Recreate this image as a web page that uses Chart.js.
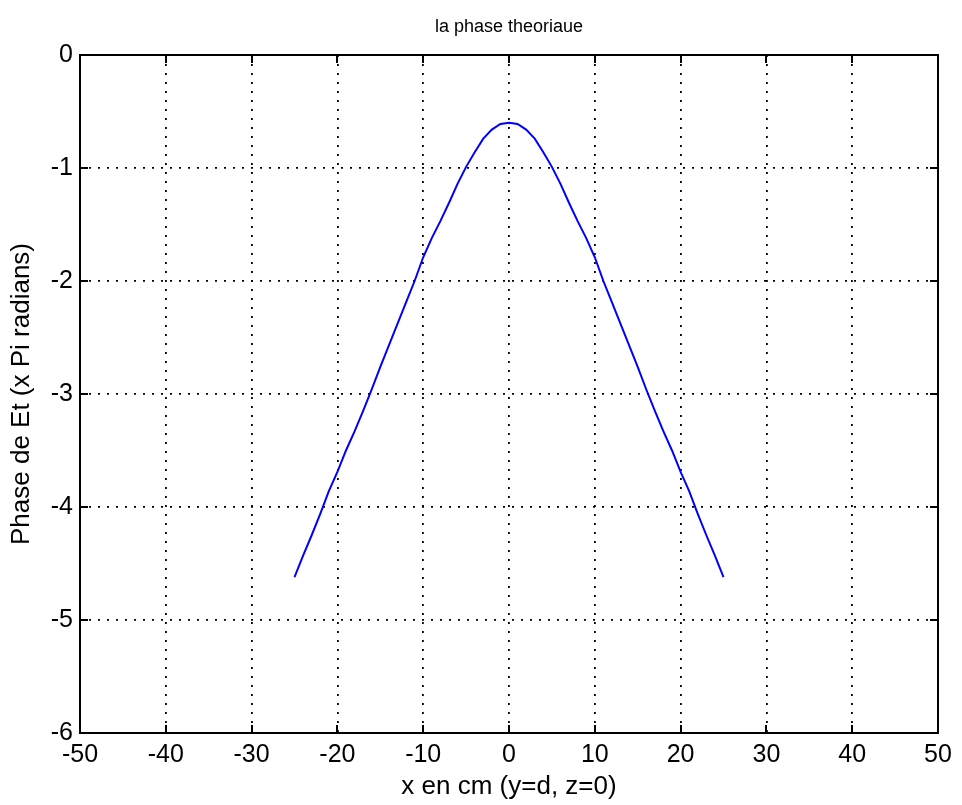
<!DOCTYPE html>
<html>
<head>
<meta charset="utf-8">
<title>la phase theoriaue</title>
<script src="https://cdn.jsdelivr.net/npm/chart.js@4.4.1/dist/chart.umd.min.js"></script>
<style>
  html, body { margin: 0; padding: 0; background: #ffffff; }
  #wrap { width: 962px; height: 805px; }
</style>
</head>
<body>
<div id="wrap"><canvas id="c" width="962" height="805"></canvas></div>
<script>
// Position along x (cm), sampled every centimetre
const positionsCm = [
  -25, -24, -23, -22, -21, -20, -19, -18, -17, -16, -15, -14, -13,
  -12, -11, -10, -9, -8, -7, -6, -5, -4, -3, -2, -1, 0,
  1, 2, 3, 4, 5, 6, 7, 8, 9, 10, 11, 12, 13,
  14, 15, 16, 17, 18, 19, 20, 21, 22, 23, 24, 25
];
// Theoretical phase of Et, in units of pi radians
const phasePi = [
  -4.62, -4.43, -4.25, -4.06, -3.86, -3.69, -3.50, -3.33, -3.15, -2.96, -2.76, -2.57, -2.38,
  -2.19, -2.00, -1.79, -1.62, -1.47, -1.31, -1.14, -0.99, -0.86, -0.74, -0.66, -0.61, -0.60,
  -0.61, -0.66, -0.74, -0.86, -0.99, -1.14, -1.31, -1.47, -1.62, -1.79, -2.00, -2.19, -2.38,
  -2.57, -2.76, -2.96, -3.15, -3.33, -3.50, -3.69, -3.86, -4.06, -4.25, -4.43, -4.62
];
const xTicks = [-50, -40, -30, -20, -10, 0, 10, 20, 30, 40, 50];
const yTicks = [0, -1, -2, -3, -4, -5, -6];

const FONT = 'Liberation Sans, Arial, Helvetica, sans-serif';

// Solid box around the plot area with short inward tick marks on all four sides
const boxAndTicks = {
  id: 'boxAndTicks',
  afterDraw(chart) {
    const { ctx, chartArea: a, scales } = chart;
    const len = 8;
    ctx.save();
    ctx.strokeStyle = '#000000';
    ctx.lineWidth = 2;
    ctx.setLineDash([]);
    ctx.beginPath();
    xTicks.forEach(v => {
      const px = Math.round(scales.x.getPixelForValue(v));
      ctx.moveTo(px, a.bottom); ctx.lineTo(px, a.bottom - len);
      ctx.moveTo(px, a.top); ctx.lineTo(px, a.top + len);
    });
    yTicks.forEach(v => {
      const py = Math.round(scales.y.getPixelForValue(v));
      ctx.moveTo(a.left, py); ctx.lineTo(a.left + len, py);
      ctx.moveTo(a.right, py); ctx.lineTo(a.right - len, py);
    });
    ctx.stroke();
    ctx.strokeRect(a.left, a.top, a.right - a.left, a.bottom - a.top);
    ctx.restore();
  }
};

new Chart(document.getElementById('c'), {
  type: 'line',
  data: {
    datasets: [{
      data: positionsCm.map((x, i) => ({ x: x, y: phasePi[i] })),
      borderColor: '#0000ff',
      borderWidth: 2,
      pointRadius: 0,
      tension: 0,
      fill: false
    }]
  },
  options: {
    responsive: false,
    animation: false,
    devicePixelRatio: 1,
    layout: { padding: { left: 0, right: 24, top: 0, bottom: 0 } },
    plugins: {
      legend: { display: false },
      tooltip: { enabled: false },
      title: {
        display: true,
        text: 'la phase theoriaue',
        fullSize: false,
        color: '#000000',
        font: { family: FONT, size: 18, weight: 'normal', lineHeight: 1.2 },
        padding: { top: 16, bottom: 17.4 }
      }
    },
    scales: {
      x: {
        type: 'linear',
        min: -50,
        max: 50,
        afterFit(s) { s.height = 72; },
        afterBuildTicks(s) { s.ticks = xTicks.map(v => ({ value: v })); },
        grid: { color: '#000000', lineWidth: 1.8, drawTicks: false },
        border: { display: false, dash: [2, 7] },
        ticks: {
          color: '#000000',
          padding: 7,
          maxRotation: 0,
          font: { family: FONT, size: 25 }
        },
        title: {
          display: true,
          text: 'x en cm (y=d, z=0)',
          color: '#000000',
          font: { family: FONT, size: 26 },
          padding: { top: 0, bottom: 2.4 }
        }
      },
      y: {
        type: 'linear',
        min: -6,
        max: 0,
        afterFit(s) { s.width = 80; },
        afterBuildTicks(s) { s.ticks = yTicks.map(v => ({ value: v })); },
        grid: { color: '#000000', lineWidth: 1.8, drawTicks: false },
        border: { display: false, dash: [2, 7] },
        ticks: {
          color: '#000000',
          padding: 7,
          font: { family: FONT, size: 25 }
        },
        title: {
          display: true,
          text: 'Phase de Et (x Pi radians)',
          color: '#000000',
          font: { family: FONT, size: 26 },
          padding: { top: 6.4, bottom: 0 }
        }
      }
    }
  },
  plugins: [boxAndTicks]
});
</script>
</body>
</html>
